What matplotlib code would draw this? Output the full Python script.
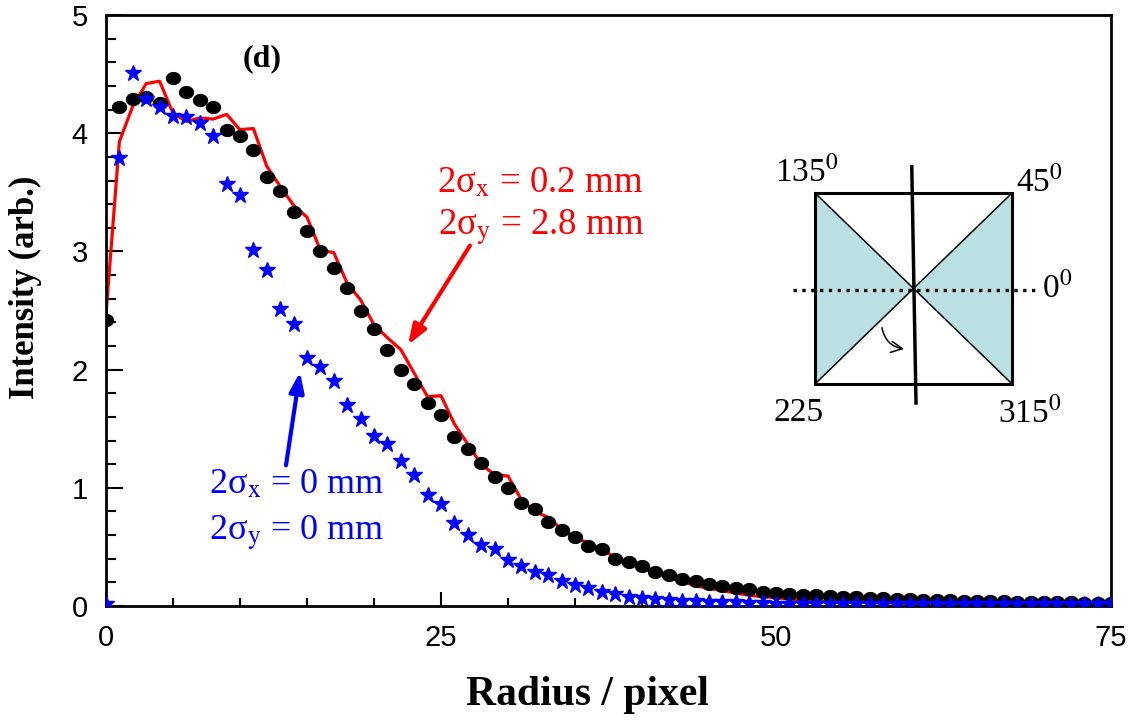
import numpy as np
import matplotlib
matplotlib.use("Agg")
import matplotlib.pyplot as plt
from matplotlib.path import Path
from matplotlib.patches import Polygon, Rectangle, FancyArrowPatch
from matplotlib.ticker import MultipleLocator

plt.rcParams['font.family'] = 'Liberation Serif'
plt.rcParams['mathtext.fontset'] = 'stix'

radius = np.arange(0, 76)

# measured profile, 2sx = 0.2 mm, 2sy = 2.8 mm
measured = [2.42, 4.22, 4.29, 4.31, 4.26, 4.47, 4.35, 4.28, 4.22, 4.03,
            3.98, 3.86, 3.63, 3.51, 3.33, 3.17, 3.00, 2.86, 2.69, 2.50,
            2.34, 2.17, 2.00, 1.88, 1.72, 1.62, 1.43, 1.33, 1.21, 1.09,
            1.00, 0.87, 0.82, 0.71, 0.64, 0.58, 0.51, 0.48, 0.40, 0.37,
            0.34, 0.29, 0.26, 0.23, 0.21, 0.19, 0.17, 0.15, 0.14, 0.12,
            0.11, 0.10, 0.095, 0.09, 0.085, 0.08, 0.075, 0.07, 0.066, 0.062,
            0.058, 0.055, 0.052, 0.049, 0.046, 0.043, 0.041, 0.039, 0.037, 0.035,
            0.033, 0.031, 0.03, 0.029, 0.028, 0.027]

# simulated profile
simulated = [2.47, 3.93, 4.23, 4.42, 4.44, 4.17, 4.10, 4.13, 4.12, 4.16,
             4.03, 4.04, 3.72, 3.55, 3.39, 3.29, 3.01, 2.99, 2.73, 2.59,
             2.38, 2.27, 2.17, 1.97, 1.77, 1.78, 1.54, 1.37, 1.20, 1.11,
             1.10, 0.90, 0.80, 0.75, 0.65, 0.58, 0.53, 0.48, 0.41, 0.36,
             0.32, 0.28, 0.24, 0.21, 0.17, 0.15, 0.13, 0.11, 0.09, 0.08,
             0.07, 0.06, 0.05, 0.045, 0.04, 0.035, 0.03, 0.03, 0.025, 0.025,
             0.02, 0.02, 0.02, 0.02, 0.02, 0.015, 0.015, 0.015, 0.015, 0.015,
             0.015, 0.015, 0.015, 0.015, 0.015, 0.015]

# no broadening, 2sx = 2sy = 0
zero_spread = [0.02, 3.79, 4.51, 4.29, 4.22, 4.15, 4.14, 4.09, 3.98, 3.57,
               3.48, 3.01, 2.84, 2.51, 2.39, 2.10, 2.02, 1.90, 1.70, 1.58,
               1.44, 1.37, 1.23, 1.11, 0.94, 0.86, 0.70, 0.60, 0.52, 0.48,
               0.39, 0.34, 0.29, 0.26, 0.21, 0.18, 0.15, 0.12, 0.10, 0.08,
               0.07, 0.06, 0.05, 0.045, 0.04, 0.035, 0.03, 0.03, 0.025, 0.025,
               0.02, 0.02, 0.02, 0.02, 0.02, 0.02, 0.02, 0.02, 0.02, 0.02,
               0.02, 0.02, 0.02, 0.02, 0.02, 0.02, 0.02, 0.02, 0.02, 0.02,
               0.02, 0.02, 0.02, 0.02, 0.02, 0.02]

# slightly flattened dot
t = np.linspace(0, 2*np.pi, 60)
dot = Path(np.column_stack([np.cos(t), 0.85*np.sin(t)]), closed=True)

fig = plt.figure(figsize=(11.41, 7.2), dpi=100)
ax = fig.add_axes([0.0929, 0.1583, 0.8808, 0.8208])

ax.plot(radius, simulated, color='red', lw=2.3, zorder=2)
ax.plot(radius, measured, ls='none', marker=dot, ms=10, color='black', zorder=3)
ax.plot(radius, zero_spread, ls='none', marker='*', ms=12, color='blue',
        mec='blue', zorder=4)

ax.set_xlim(0, 75)
ax.set_ylim(0, 5)
ax.xaxis.set_major_locator(MultipleLocator(25))
ax.xaxis.set_minor_locator(MultipleLocator(5))
ax.yaxis.set_major_locator(MultipleLocator(1))
ax.yaxis.set_minor_locator(MultipleLocator(0.2))
ax.tick_params(which='both', direction='in', width=1.5, pad=13,
               labelsize=21, labelfontfamily='Liberation Sans')
ax.tick_params(axis='x', which='major', length=10)
ax.tick_params(axis='x', which='minor', length=6)
ax.tick_params(axis='y', which='major', length=12)
ax.tick_params(axis='y', which='minor', length=7)
for s in ax.spines.values():
    s.set_linewidth(2)

ax.set_xlabel('Radius / pixel', fontsize=30, fontweight='bold')
ax.xaxis.set_label_coords(0.4786, -0.118)
ax.set_ylabel('Intensity (arb.)', fontsize=25, fontweight='bold')
ax.yaxis.set_label_coords(-0.064, 0.54)

ax.text(11.68, 4.63, '(d)', fontsize=23, fontweight='bold', ha='center', va='center')

ax.text(32.4, 3.50, '2σ$_{\\mathrm{x}}$ = 0.2 mm', color='red', fontsize=26.5,
        ha='center', va='baseline')
ax.text(32.45, 3.14, '2σ$_{\\mathrm{y}}$ = 2.8 mm', color='red', fontsize=26.5,
        ha='center', va='baseline')
ax.text(14.2, 0.956, '2σ$_{\\mathrm{x}}$ = 0 mm', color='blue', fontsize=26,
        ha='center', va='baseline')
ax.text(14.2, 0.558, '2σ$_{\\mathrm{y}}$ = 0 mm', color='blue', fontsize=26,
        ha='center', va='baseline')

arrow_style = '-|>,head_length=0.6,head_width=0.22'
ax.annotate('', xy=(22.54, 2.21), xytext=(27.16, 3.05),
            arrowprops=dict(arrowstyle=arrow_style, color='red', lw=3,
                            mutation_scale=20, shrinkA=0, shrinkB=0))
ax.annotate('', xy=(14.48, 1.98), xytext=(13.43, 1.19),
            arrowprops=dict(arrowstyle=arrow_style, color='blue', lw=3,
                            mutation_scale=20, shrinkA=0, shrinkB=0))

# detector sketch: square with shaded sectors, unit half-width
ins = fig.add_axes([0.6661, 0.4028, 0.2805, 0.3889])
ins.set_xlim(-1.558, 1.690)
ins.set_ylim(-1.482, 1.450)
ins.axis('off')

shade = '#bbe0e3'
ins.add_patch(Polygon([(-1, 1), (0, 0), (-1, -1)], closed=True, fc=shade, ec='none'))
ins.add_patch(Polygon([(1, 1), (0, 0), (1, -1)], closed=True, fc=shade, ec='none'))
ins.plot([-1, 1], [1, -1], color='black', lw=1.1)
ins.plot([-1, 1], [-1, 1], color='black', lw=1.1)
ins.add_patch(Rectangle((-1, -1), 2, 2, fill=False, ec='black', lw=2.2))
ins.plot([-1.223, 1.254], [-0.02, -0.02], color='black', lw=2.4, ls=':')
ins.plot([-0.018, 0.025], [1.275, -1.199], color='black', lw=2.5)
ins.add_patch(FancyArrowPatch((-0.325, -0.382), (-0.069, -0.637),
                              connectionstyle='arc3,rad=0.4', arrowstyle='->',
                              mutation_scale=20, lw=1.1, color='black'))

for x, y, s in [(-1.081, 1.22, r'135$^{0}$'), (1.277, 1.115, r'45$^{0}$'),
                (1.457, 0.0, r'0$^{0}$'), (-1.162, -1.304, '225'),
                (1.183, -1.304, r'315$^{0}$')]:
    ins.text(x, y, s, fontsize=24, ha='center', va='center')

fig.savefig('out.png', dpi=100)
